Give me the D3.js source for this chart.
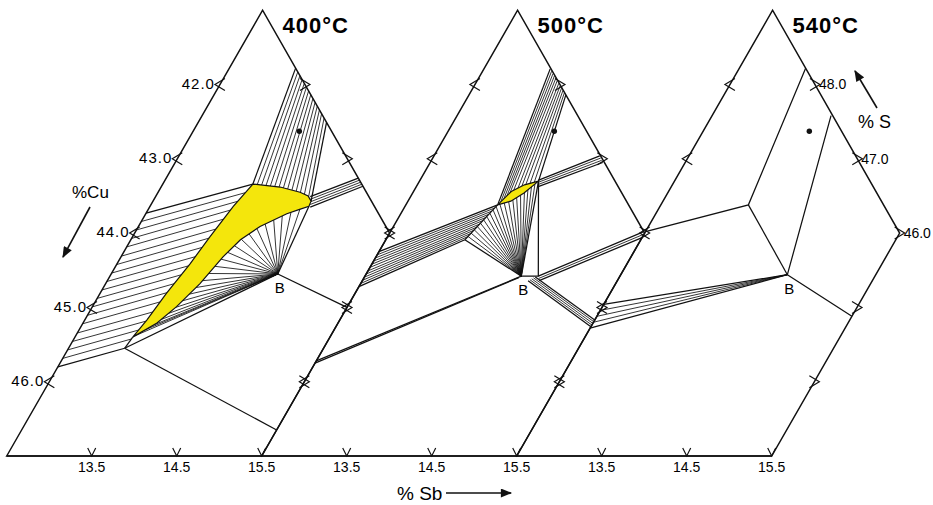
<!DOCTYPE html>
<html>
<head>
<meta charset="utf-8">
<script src="https://cdn.jsdelivr.net/npm/d3@7"></script>
<style>
  body { margin: 0; background: #fff; }
  svg { font-family: "Liberation Sans", Arial, sans-serif; }
  .edge { fill: none; stroke: #111; stroke-width: 1.5; }
  .tie { fill: none; stroke: #111; stroke-width: 0.85; }
  .bound { fill: none; stroke: #111; stroke-width: 1.25; }
  .tick { fill: none; stroke: #111; stroke-width: 1.2; }
</style>
</head>
<body>
<svg width="933" height="505"></svg>
<script>
// all compositions are atomic %, written as [Sb, S]
const panels = ["400°C", "500°C", "540°C"];
const sbTicks = [13.5, 14.5, 15.5];
const cuTicks = [42.0, 43.0, 44.0, 45.0, 46.0];
const sTicks = [48.0, 47.0, 46.0];
const lowTicks = [45.0, 44.0];
const frame = [[12.5, 43], [12.5, 49], [15.5, 46], [15.5, 43]];
const tetrahedrite = [13.75, 47.37];

// 400°C
const yTop400 = [[13.56, 46.66], [13.90, 46.62], [14.17, 46.55], [14.29, 46.50], [14.36, 46.43]];
const yLow400 = [[14.37, 46.36], [14.28, 46.32], [14.16, 46.26], [13.93, 46.09], [13.79, 45.91], [13.70, 45.68],
  [13.61, 45.32], [13.49, 45.01], [13.37, 44.79], [13.21, 44.63], [13.18, 44.60]];
const yLeft400 = [[13.56, 46.66], [13.48, 46.36], [13.41, 45.95], [13.36, 45.59], [13.28, 45.19], [13.23, 44.83], [13.18, 44.60]];
const node400 = [13.16, 44.45];
const b400 = [14.46, 45.45];

// 500°C
const yUp500 = [[13.58, 46.38], [13.65, 46.56], [13.76, 46.65], [13.90, 46.70]];
const yLow500 = [[13.58, 46.38], [13.71, 46.43], [13.81, 46.54], [13.90, 46.70]];
const q500 = [13.43, 45.91];
const b500 = [14.34, 45.42];
const foot500 = [14.54, 45.42];

// 540°C
const j540 = [13.53, 46.38];
const b540 = [14.46, 45.44];

// tie line positions (fraction along each boundary)
const t3 = [0, 0.5, 1];
const t4 = [0, 0.33, 0.67, 1];
const t5 = [0, 0.25, 0.5, 0.75, 1];
const t12 = [0, 0.09, 0.18, 0.27, 0.36, 0.45, 0.55, 0.64, 0.73, 0.82, 0.91, 1];
const t15 = [0, 0.07, 0.14, 0.21, 0.28, 0.35, 0.42, 0.49, 0.56, 0.63, 0.70, 0.77, 0.84, 0.92, 1];
const t19 = [0, 0.055, 0.11, 0.165, 0.22, 0.28, 0.335, 0.39, 0.445, 0.5, 0.555, 0.61, 0.665, 0.72, 0.78, 0.835, 0.89, 0.945, 1];
const t22 = [0, 0.048, 0.095, 0.143, 0.19, 0.238, 0.286, 0.333, 0.381, 0.429, 0.476, 0.524, 0.571, 0.619, 0.667,
  0.714, 0.762, 0.81, 0.857, 0.905, 0.952, 1];
const t25 = [0, 0.04, 0.08, 0.12, 0.16, 0.2, 0.24, 0.28, 0.32, 0.36, 0.4, 0.44, 0.48, 0.52, 0.56, 0.6, 0.64, 0.68,
  0.72, 0.76, 0.8, 0.84, 0.88, 0.93, 1];

const panelData = [
  {
    yellow: yTop400.concat(yLow400, yLeft400.slice(1, -1).reverse()),
    bands: [
      { a: yTop400, b: [[13.28, 48.22], [14.01, 47.49]], t: t15 },
      { a: [[12.5, 46.27], [12.5, 44.20]], b: yLeft400.concat([node400]), t: t19 },
      { a: [[14.32, 46.49], [14.39, 46.35]], b: [[14.76, 46.74], [14.87, 46.63]], t: t5 }
    ],
    fans: [{ c: b400, to: yLow400.concat([node400]), t: t25 }],
    lines: [[b400, [15.5, 45.0]], [node400, [15.5, 43.35]], [[13.18, 44.60], node400]]
  },
  {
    yellow: yUp500.concat(yLow500.slice(1, -1).reverse()),
    bands: [
      { a: yUp500, b: [[13.28, 48.21], [13.64, 47.86]], t: t12 },
      { a: [[12.5, 45.75], [12.5, 45.28]], b: [yUp500[0], q500], t: t12 },
      { a: [[13.89, 46.71], [13.94, 46.63]], b: [[14.45, 47.04], [14.53, 46.95]], t: t4 },
      { a: [foot500, [14.58, 45.36]], b: [[15.48, 46.02], [15.5, 45.94]], t: t3 },
      { a: [[14.51, 45.41], [14.45, 45.36]], b: [[15.5, 44.83], [15.5, 44.74]], t: t5 }
    ],
    fans: [{ c: b500, to: [q500].concat(yLow500), t: t22 }],
    lines: [[q500, yUp500[0]], [yLow500[3], foot500, b500], [b500, [12.5, 44.28]], [[14.32, 45.40], [12.5, 44.25]]]
  },
  {
    yellow: null,
    bands: [],
    fans: [{ c: b540, to: [[12.5, 45.04], [12.5, 44.72]], t: t5 }],
    lines: [[[13.28, 48.22], j540, [12.5, 46.02]], [j540, b540], [[13.90, 47.58], b540, [15.5, 44.88]]]
  }
];

const svg = d3.select("svg");
const yS = d3.scaleLinear().domain([43, 49]).range([456, 10.2]);
const xSb = d3.scaleLinear().domain([12.5, 15.5]).range([6.7, 261.7]);
const shear = 0.574;
// each panel is set 3 % Sb further right, so the frames share their edges
const shift = i => xSb(12.5 + 3 * i) - xSb(12.5);
const cuToS = d3.scaleLinear().domain([42, 46]).range([48, 44]);
const rightSum = frame[2][0] + frame[2][1];
const fmt = d3.format(".1f");

function pt(p, i) {
  const y = yS(p[1]);
  return [xSb(p[0]) + shift(i) + (yS(43) - y) * shear, y];
}

function along(pts, t) {
  const segs = d3.pairs(pts).map(([a, b]) => Math.hypot(b[0] - a[0], b[1] - a[1]));
  let d = t * d3.sum(segs);
  for (let k = 0; k < segs.length; k++) {
    if (d <= segs[k] || k === segs.length - 1) {
      const f = segs[k] ? Math.min(d / segs[k], 1) : 0;
      const a = pts[k], b = pts[k + 1];
      return [a[0] + (b[0] - a[0]) * f, a[1] + (b[1] - a[1]) * f];
    }
    d -= segs[k];
  }
}

const line = d3.line();

const defs = svg.append("defs");
defs.append("marker").attr("id", "head")
  .attr("viewBox", "0 0 10 8").attr("refX", 9).attr("refY", 4)
  .attr("markerWidth", 13).attr("markerHeight", 9)
  .attr("markerUnits", "userSpaceOnUse").attr("orient", "auto")
  .append("path").attr("d", "M0,0L10,4L0,8Z").attr("fill", "#111");

panelData.forEach((pd, i) => {
  const g = svg.append("g");
  const P = p => pt(p, i);

  // hatched bands of tie lines
  pd.bands.forEach(band => {
    const A = band.a.map(P), B = band.b.map(P);
    g.selectAll(null).data(band.t).enter().append("path")
      .attr("class", t => (t === 0 || t === 1) ? "bound" : "tie")
      .attr("d", t => line([along(A, t), along(B, t)]));
  });

  // fans from the B phase
  pd.fans.forEach(fan => {
    const C = P(fan.c), T = fan.to.map(P);
    g.selectAll(null).data(fan.t).enter().append("path")
      .attr("class", t => (t === 0 || t === 1) ? "bound" : "tie")
      .attr("d", t => line([C, along(T, t)]));
  });

  g.selectAll(null).data(pd.lines).enter().append("path")
    .attr("class", "bound")
    .attr("d", l => line(l.map(P)));

  if (pd.yellow) {
    g.append("path")
      .attr("d", line(pd.yellow.map(P)) + "Z")
      .attr("fill", "#f4e60c")
      .attr("stroke", "#111")
      .attr("stroke-width", 1.2);
  }

  // frame
  g.append("path").attr("class", "edge").attr("d", line(frame.map(P)) + "Z");

  // ticks
  const bottom = sbTicks.map(v => P([v, 43]));
  g.selectAll(null).data(bottom).enter().append("path").attr("class", "tick")
    .attr("d", q => `M${q[0] - 4},${q[1] - 8}L${q[0]},${q[1]}L${q[0] + 4},${q[1] - 8}`);
  g.selectAll(null).data(sbTicks).enter().append("text")
    .attr("x", v => P([v, 43])[0]).attr("y", 472)
    .attr("text-anchor", "middle").attr("font-size", 14)
    .text(fmt);

  const left = cuTicks.map(c => P([frame[0][0], cuToS(c)]));
  g.selectAll(null).data(left).enter().append("path").attr("class", "tick")
    .attr("d", q => `M${q[0] + 5},${q[1] - 6}L${q[0] - 5},${q[1]}L${q[0] + 5},${q[1] + 6}`);
  const rightPts = sTicks.map(s => P([rightSum - s, s])).concat(lowTicks.map(s => P([frame[2][0], s])));
  g.selectAll(null).data(rightPts).enter().append("path").attr("class", "tick")
    .attr("d", q => `M${q[0] - 5},${q[1] - 6}L${q[0] + 5},${q[1]}L${q[0] - 5},${q[1] + 6}`);

  if (i === 0) {
    g.selectAll(null).data(cuTicks).enter().append("text")
      .attr("x", c => P([frame[0][0], cuToS(c)])[0] - 5)
      .attr("y", c => P([frame[0][0], cuToS(c)])[1] - 1)
      .attr("dy", "0.35em").attr("text-anchor", "end")
      .attr("font-size", 15).attr("letter-spacing", 1)
      .text(fmt);
  }
  if (i === 2) {
    g.selectAll(null).data(sTicks).enter().append("text")
      .attr("x", s => P([rightSum - s, s])[0] + 4)
      .attr("y", s => P([rightSum - s, s])[1])
      .attr("dy", "0.35em").attr("font-size", 14)
      .text(fmt);
  }

  // tetrahedrite composition
  const dot = P(tetrahedrite);
  g.append("circle").attr("cx", dot[0]).attr("cy", dot[1]).attr("r", 2.7).attr("fill", "#111");

  // B label
  const bp = P(pd.fans[0].c);
  g.append("text").attr("x", bp[0] + 2).attr("y", bp[1] + 19)
    .attr("text-anchor", "middle").attr("font-size", 15).text("B");

  // title
  const apex = P(frame[1]);
  g.append("text").attr("x", apex[0] + 20).attr("y", apex[1] + 23)
    .attr("font-size", 22).attr("font-weight", "bold").attr("letter-spacing", 1)
    .text(panels[i]);
});

// common base line
svg.append("path").attr("class", "edge")
  .attr("d", line([pt(frame[0], 0), pt(frame[3], 2)]));

// axis names
svg.append("text").attr("x", 72).attr("y", 198).attr("font-size", 17).text("%Cu");
svg.append("path").attr("d", line([[90, 207], [63, 257]]))
  .attr("stroke", "#111").attr("stroke-width", 1.6).attr("marker-end", "url(#head)");

svg.append("text").attr("x", 858).attr("y", 128).attr("font-size", 18).text("% S");
svg.append("path").attr("d", line([[877, 108], [855, 71]]))
  .attr("stroke", "#111").attr("stroke-width", 1.6).attr("marker-end", "url(#head)");

svg.append("text").attr("x", 397).attr("y", 500).attr("font-size", 19).text("% Sb");
svg.append("path").attr("d", line([[446, 493], [511, 493]]))
  .attr("stroke", "#111").attr("stroke-width", 1.6).attr("marker-end", "url(#head)");
</script>
</body>
</html>
